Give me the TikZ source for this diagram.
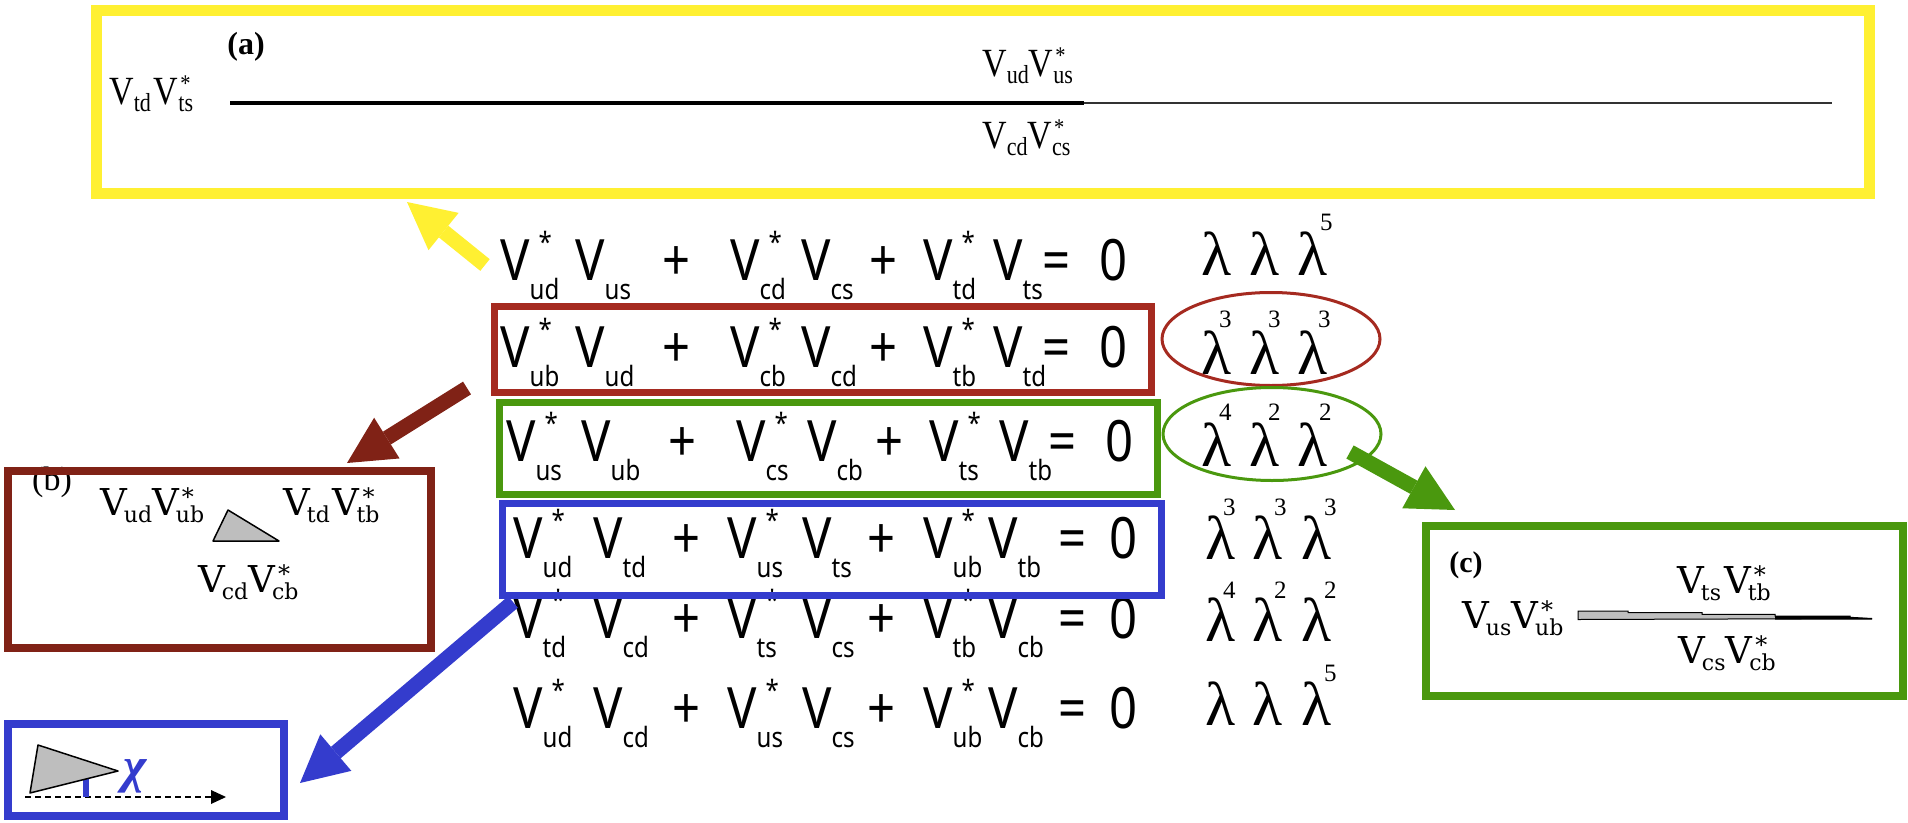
\documentclass[tikz,border=0pt]{standalone}
\usepackage{fontspec}
\usetikzlibrary{arrows.meta,shapes.geometric}
\newfontfamily\eqf[FakeStretch=0.86]{Noto Sans}
\newfontfamily\serf{Liberation Serif}
\newfontfamily\aserf[FakeStretch=0.85]{Liberation Serif}
\newfontfamily\dvs{DejaVu Serif}
\definecolor{ycol}{RGB}{255,240,50}
\definecolor{rcol}{RGB}{165,42,32}
\definecolor{dcol}{RGB}{128,34,22}
\definecolor{gcol}{RGB}{74,152,14}
\definecolor{bcol}{RGB}{52,60,205}
\definecolor{tgray}{RGB}{190,190,190}
% equation term: V with star above and subscript below
\newcommand\Ve[2]{V\rlap{\hspace{9pt}\raisebox{28pt}{\fontsize{28}{28}\selectfont #2}}\raisebox{-19pt}{\fontsize{28}{28}\selectfont #1}}
% box (a) term
\newcommand\Va[2]{V\rlap{\hspace{2pt}\raisebox{13pt}{\fontsize{24}{24}\selectfont #2}}\raisebox{-7pt}{\fontsize{26}{26}\selectfont #1}}
% box (b),(c) term
\newcommand\Vb[2]{V\rlap{\hspace{3pt}\raisebox{10pt}{\fontsize{24}{24}\selectfont #2}}\hspace{-3pt}\raisebox{-7pt}{\fontsize{22}{22}\selectfont #1}}
\begin{document}
\begin{tikzpicture}[x=1pt,y=-1pt,
  eqv/.style={anchor=base west, inner sep=0pt, font=\eqf\fontsize{57}{60}\selectfont},
  eqs/.style={anchor=base, inner sep=0pt, font=\eqf\fontsize{57}{60}\selectfont},
  lam/.style={anchor=base west, inner sep=0pt, font=\serf\fontsize{62}{64}\selectfont},
  lexp/.style={anchor=base west, inner sep=0pt, font=\serf\fontsize{25}{25}\selectfont},
  atext/.style={anchor=base west, inner sep=0pt, font=\aserf\fontsize{40}{42}\selectfont},
  btext/.style={anchor=base west, inner sep=0pt, font=\dvs\fontsize{37}{40}\selectfont},
  tag/.style={inner sep=0pt, font=\serf\bfseries\fontsize{30}{32}\selectfont},
  boxframe/.style={draw=#1, rectangle, inner sep=0pt, fill=none},
  ell/.style={draw=#1, ellipse, line width=3pt, inner sep=0pt, minimum width=218pt, minimum height=93pt},
  bigarrow/.style={line width=15pt, -{Triangle[length=47pt,width=48pt,line width=0pt]}},
]
\useasboundingbox (0,0) rectangle (1908,822);

% ---------- box (a) ----------
\node[tag, font=\serf\bfseries\fontsize{32}{34}\selectfont] (taga) at (246,47) {(a)};
\node[atext] (aleft) at (109,104) {\Va{td}{}\hspace{3pt}\Va{ts}{*}};
\node[atext] (anum) at (982,76) {\Va{ud}{}\Va{us}{*}};
\node[atext] (aden) at (982,148) {\Va{cd}{}\Va{cs}{*}};
\coordinate (aL) at (230,103);
\coordinate (aM) at (1084,103);
\coordinate (aR) at (1832,103);
\draw[line width=4pt] (aL) -- (aM);
\draw[line width=2pt, black!80] (aM) -- (aR);
\node[boxframe=ycol, line width=11pt, minimum width=1773pt, minimum height=183pt] (boxa) at (982.5,101.5) {};

% ---------- equations ----------
\foreach \r/\x/\y/\ua/\ub/\uc/\ud/\ue/\uf in
  {1/500/280/ud/us/cd/cs/td/ts, 2/500/367/ub/ud/cb/cd/tb/td, 3/506/461/us/ub/cs/cb/ts/tb}{
  \node[eqv] (v\r-1) at (\x,\y) {\Ve{\ua}{*}};
  \node[eqv] (v\r-2) at (\x+75,\y) {\Ve{\ub}{}};
  \node[eqs] (p\r-1) at (\x+177,\y) {+};
  \node[eqv] (v\r-3) at (\x+230,\y) {\Ve{\uc}{*}};
  \node[eqv] (v\r-4) at (\x+301,\y) {\Ve{\ud}{}};
  \node[eqs] (p\r-2) at (\x+384,\y) {+};
  \node[eqv] (v\r-5) at (\x+423,\y) {\Ve{\ue}{*}};
  \node[eqv] (v\r-6) at (\x+493,\y) {\Ve{\uf}{}};
  \node[eqs] (q\r) at (\x+557,\y) {=};
  \node[eqs] (z\r) at (\x+614,\y) {0};
}
\foreach \r/\x/\y/\ua/\ub/\uc/\ud/\ue/\uf in
  {4/513/558/ud/td/us/ts/ub/tb, 5/513/638/td/cd/ts/cs/tb/cb, 6/513/728/ud/cd/us/cs/ub/cb}{
  \node[eqv] (v\r-1) at (\x,\y) {\Ve{\ua}{*}};
  \node[eqv] (v\r-2) at (\x+80,\y) {\Ve{\ub}{}};
  \node[eqs] (p\r-1) at (\x+174,\y) {+};
  \node[eqv] (v\r-3) at (\x+214,\y) {\Ve{\uc}{*}};
  \node[eqv] (v\r-4) at (\x+289,\y) {\Ve{\ud}{}};
  \node[eqs] (p\r-2) at (\x+369,\y) {+};
  \node[eqv] (v\r-5) at (\x+410,\y) {\Ve{\ue}{*}};
  \node[eqv] (v\r-6) at (\x+475,\y) {\Ve{\uf}{}};
  \node[eqs] (q\r) at (\x+560,\y) {=};
  \node[eqs] (z\r) at (\x+611,\y) {0};
}

% ---------- lambda column ----------
\foreach \r/\y/\xa/\xb/\xc in {1/275/1201/1249/1297, 2/374/1201/1249/1297, 3/466/1201/1249/1297,
                              4/559/1205/1252/1301, 5/641/1205/1252/1301, 6/725/1205/1252/1301}{
  \node[lam] (l\r-1) at (\xa,\y) {λ};
  \node[lam] (l\r-2) at (\xb,\y) {λ};
  \node[lam] (l\r-3) at (\xc,\y) {λ};
}
\foreach \n/\x/\y/\t in {e1c/1320/230/5,
   e2a/1219/327/3, e2b/1268/327/3, e2c/1318/327/3,
   e3a/1219/420/4, e3b/1268/420/2, e3c/1319/420/2,
   e4a/1223/515/3, e4b/1274/515/3, e4c/1324/515/3,
   e5a/1223/598/4, e5b/1274/598/2, e5c/1324/598/2,
   e6c/1324/681/5}{
  \node[lexp] (\n) at (\x,\y) {\t};
}
\node[ell=rcol] (ellr) at (1271,339) {};
\node[ell=gcol] (ellg) at (1272,434) {};

% ---------- highlight boxes ----------
\node[boxframe=rcol, line width=7pt, minimum width=657pt, minimum height=86pt] (boxr) at (822.5,349) {};
\node[boxframe=gcol, line width=7pt, minimum width=658pt, minimum height=92pt] (boxg) at (828,448) {};
\node[boxframe=bcol, line width=7pt, minimum width=659pt, minimum height=92pt] (boxbl) at (831.5,549) {};

% ---------- box (b) ----------
\node[tag, anchor=base west, font=\serf\fontsize{34}{36}\selectfont] (tagb) at (32,490) {(b)};
\node[btext] (b1) at (100,515) {\Vb{ud}{}\Vb{ub}{*}};
\node[btext] (b2) at (283,515) {\Vb{td}{}\hspace{3pt}\Vb{tb}{*}};
\node[btext] (b3) at (198,592) {\Vb{cd}{}\Vb{cb}{*}};
\filldraw[fill=tgray, draw=black, line width=1.5pt, line join=round] (213,541) -- (228,510) -- (279,541) -- cycle;
\node[boxframe=dcol, line width=8pt, minimum width=423pt, minimum height=177pt] (boxb) at (219.5,559.5) {};

% ---------- box (c) ----------
\node[tag] (tagc) at (1466,565) {(c)};
\node[btext] (c1) at (1462,628) {\Vb{us}{}\Vb{ub}{*}};
\node[btext] (c2) at (1677,593) {\Vb{ts}{}\hspace{3pt}\Vb{tb}{*}};
\node[btext] (c3) at (1678,663) {\Vb{cs}{}\Vb{cb}{*}};
\fill[tgray] (1578,611) -- (1628,611) -- (1628,612.7) -- (1702,612.7) -- (1702,614.3) -- (1775,614.3) -- (1775,619.3) -- (1578,619.3) -- cycle;
\fill[black] (1775,616) -- (1850,616) -- (1850,617.3) -- (1872,618.3) -- (1872,619.5) -- (1775,619.5) -- cycle;
\draw[black, line width=1pt] (1578,611) -- (1628,611) -- (1628,612.7) -- (1702,612.7) -- (1702,614.3) -- (1775,614.3) -- (1775,616) -- (1850,616) -- (1850,617.3) -- (1872,618.5) -- (1578,619.5) -- cycle;
\node[boxframe=gcol, line width=8pt, minimum width=477pt, minimum height=170pt] (boxc) at (1664.5,611) {};

% ---------- box (d) ----------
\coordinate (d0) at (25,797);
\coordinate (d1) at (226,797);
\draw[line width=2pt, dash pattern=on 6pt off 4pt, -{Triangle[length=15pt,width=14pt,line width=0pt]}] (d0) -- (d1);
\draw[bcol, line width=6pt] (86,775) -- (86,797);
\filldraw[fill=tgray, draw=black, line width=1.5pt, line join=round] (30,793) -- (38,745) -- (118,771) -- cycle;
\node[inner sep=0pt, text=bcol, font=\serf\itshape\bfseries\fontsize{50}{50}\selectfont] (chi) at (135,776) {χ};
\node[boxframe=bcol, line width=8pt, minimum width=276pt, minimum height=92pt] (boxd) at (146,770) {};

% ---------- arrows ----------
\coordinate (ya0) at (485,265);
\coordinate (ya1) at (407,202);
\coordinate (ra0) at (467,388);
\coordinate (ra1) at (347,463);
\coordinate (ba0) at (513,602);
\coordinate (ba1) at (300,783);
\coordinate (ga0) at (1350,452);
\coordinate (ga1) at (1455,510);
\draw[bigarrow, ycol] (ya0) -- (ya1);
\draw[bigarrow, dcol] (ra0) -- (ra1);
\draw[bigarrow, bcol] (ba0) -- (ba1);
\draw[bigarrow, gcol] (ga0) -- (ga1);
\end{tikzpicture}
\end{document}
